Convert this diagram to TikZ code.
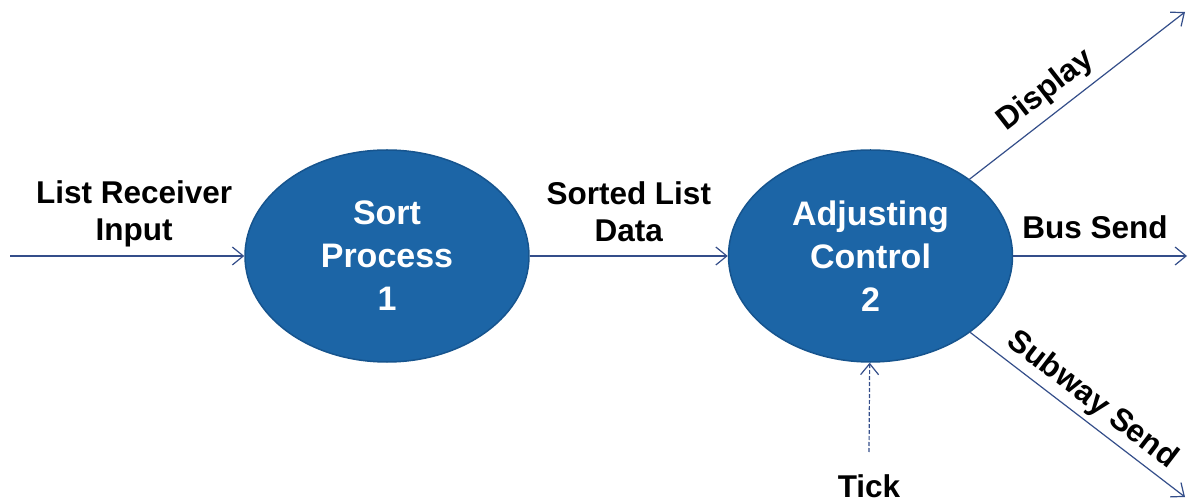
\documentclass[tikz,border=0pt]{standalone}
\usepackage{fontspec}
\setmainfont{Liberation Sans}
\usetikzlibrary{arrows.meta,positioning,calc,shapes}

\definecolor{procblue}{RGB}{28,101,166}
\definecolor{procedge}{RGB}{22,84,142}
\definecolor{flowblue}{RGB}{52,78,138}

\tikzset{
  process/.style={ellipse, draw=procedge, line width=1.5bp, fill=procblue, text=white,
    inner sep=0pt, minimum width=284bp, minimum height=212bp, align=center,
    font=\bfseries\fontsize{34bp}{43bp}\selectfont},
  flow/.style={draw=flowblue, line width=1.2bp,
    -{Straight Barb[length=11bp,width=18bp,line width=1.2bp]}},
  flowlabel/.style={align=center, text=black, inner sep=2bp,
    font=\bfseries\fontsize{31.5bp}{37bp}\selectfont},
}

\begin{document}
\begin{tikzpicture}[x=1bp, y=-1bp]
      \useasboundingbox (0,0) rectangle (1188,502);

      % nodes
      \node[process] (sort_process) at (387,256) {Sort\\Process\\1};
      \node[process, right=198bp of sort_process] (adjusting_control) {Adjusting\\Control\\2};

      % free ends
      \coordinate (list_input) at (10,256);
      \coordinate (display_out) at (1185,12);
      \coordinate (bus_out) at (1187,256);
      \coordinate (subway_out) at (1185,497);
      \coordinate (tick_in) at (869,452);
      \node[flowlabel, below=20bp of tick_in] (tick_label) {Tick};

      % edges
      \draw[flow] (list_input) -- (sort_process)
        node[flowlabel, pos=0.53, above=6bp] {List Receiver\\Input};
      \draw[flow] (sort_process) -- (adjusting_control)
        node[flowlabel, midway, above=12bp] {Sorted List\\Data};
      \draw[flow] (adjusting_control) -- (display_out)
        node[flowlabel, pos=0.42, sloped, above=6bp] {Display};
      \draw[flow] (adjusting_control) -- (bus_out)
        node[flowlabel, pos=0.47, above=15bp] {Bus Send};
      \draw[flow] (adjusting_control) -- (subway_out)
        node[flowlabel, pos=0.51, sloped, above=3bp] {Subway Send};
      \draw[flow, dash pattern=on 4bp off 2bp] (tick_in) -- (adjusting_control);

\end{tikzpicture}
\end{document}
